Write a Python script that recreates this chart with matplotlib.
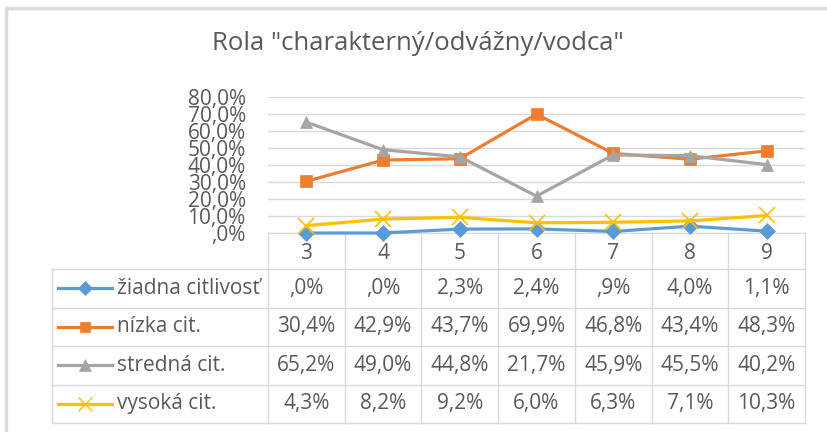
import matplotlib
matplotlib.use("Agg")
import matplotlib.pyplot as plt
import numpy as np

# categories and series (percent)
cats = ['3', '4', '5', '6', '7', '8', '9']
series_names = ['žiadna citlivosť', 'nízka cit.', 'stredná cit.', 'vysoká cit.']
ziadna = [0.0, 0.0, 2.3, 2.4, 0.9, 4.0, 1.1]
nizka = [30.4, 42.9, 43.7, 69.9, 46.8, 43.4, 48.3]
stredna = [65.2, 49.0, 44.8, 21.7, 45.9, 45.5, 40.2]
vysoka = [4.3, 8.2, 9.2, 6.0, 6.3, 7.1, 10.3]
title = 'Rola "charakterný/odvážny/vodca"'

colors = ['#5B9BD5', '#ED7D31', '#A5A5A5', '#FFC000']
markers = ['D', 's', '^', 'x']
msizes = [8, 8, 9, 11]
TXT = '#595959'
GRID = '#D9D9D9'
FONT = 'Open Sans'
FS = 15

plt.rcParams['font.family'] = [FONT, 'DejaVu Sans']


def fmt(v):
    s = f'{v:.1f}'.replace('.', ',')
    if s.startswith('0,'):
        s = s[1:]
    return s + '%'


W, H = 827, 432
fig = plt.figure(figsize=(W / 100, H / 100), dpi=100)

# layout in pixels
left, right = 268, 805
top, axis_y = 97, 233
row_lines = [269, 307.5, 346, 384.5, 423]
tab_left = 52

# overlay axes in pixel units for frame and table
ov = fig.add_axes([0, 0, 1, 1])
ov.set_xlim(0, W)
ov.set_ylim(H, 0)
ov.axis('off')

# outer frame (top and left visible)
ov.plot([5, W], [8, 8], color='#DCDCDC', lw=2.5, solid_capstyle='butt')
ov.plot([6, 6], [8, H], color='#DCDCDC', lw=2.5, solid_capstyle='butt')

ax = fig.add_axes([left / W, 1 - axis_y / H, (right - left) / W, (axis_y - top) / H])
x = np.arange(len(cats))
data = [ziadna, nizka, stredna, vysoka]
for vals, c, m, ms in zip(data, colors, markers, msizes):
    ax.plot(x, vals, color=c, lw=2.3, marker=m, markersize=ms,
            markeredgewidth=1.2 if m == 'x' else 0.5, markeredgecolor=c,
            clip_on=False, zorder=3)

ax.set_xlim(-0.5, len(cats) - 0.5)
ax.set_ylim(0, 80)
yt = np.arange(0, 81, 10)
ax.set_yticks(yt)
ax.set_yticklabels([fmt(v) for v in yt], fontsize=FS, color=TXT)
ax.set_xticks(x)
ax.set_xticklabels(cats, fontsize=FS, color=TXT)
ax.tick_params(axis='y', length=0, pad=16)
ax.tick_params(axis='x', length=0, pad=7)
ax.grid(axis='y', color=GRID, lw=1)
ax.set_axisbelow(True)
for s in ['top', 'left', 'right']:
    ax.spines[s].set_visible(False)
ax.spines['bottom'].set_color(GRID)
ax.patch.set_alpha(0)

# title
ov.text(418, 44, title, ha='center', va='center', fontsize=18.5, color=TXT)

# data table
colw = (right - left) / len(cats)
for yl in row_lines:
    ov.plot([tab_left, right], [yl, yl], color=GRID, lw=1)
ov.plot([tab_left, tab_left], [row_lines[0], row_lines[-1]], color=GRID, lw=1)
for k in range(len(cats) + 1):
    xv = left + k * colw
    ov.plot([xv, xv], [axis_y, row_lines[-1]], color=GRID, lw=1)

for r, (name, vals, c, m, ms) in enumerate(zip(series_names, data, colors, markers, msizes)):
    yc = (row_lines[r] + row_lines[r + 1]) / 2
    ov.plot([58, 112], [yc, yc], color=c, lw=2.3)
    ov.plot([85], [yc], color=c, marker=m, markersize=ms - 1,
            markeredgewidth=1.0 if m == 'x' else 0.5, markeredgecolor=c)
    ov.text(117, yc, name, ha='left', va='center', fontsize=FS, color=TXT)
    for i, v in enumerate(vals):
        ov.text(left + (i + 0.5) * colw, yc, fmt(v), ha='center', va='center',
                fontsize=FS, color=TXT)

fig.savefig('out.png', dpi=100)
